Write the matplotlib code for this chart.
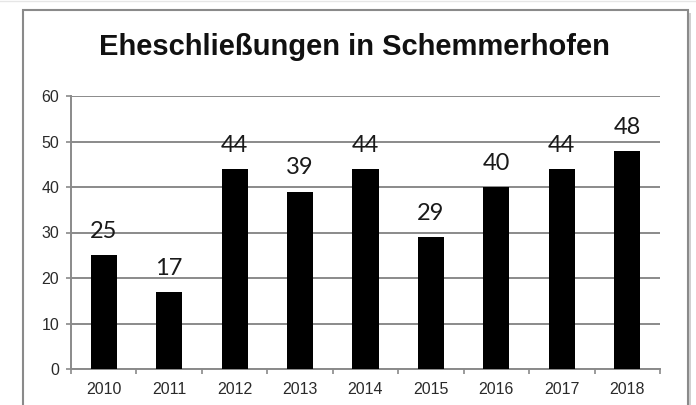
import matplotlib
matplotlib.use("Agg")
import matplotlib.pyplot as plt
from matplotlib.patches import Rectangle
import numpy as np

years = ["2010", "2011", "2012", "2013", "2014", "2015", "2016", "2017", "2018"]
values = [25, 17, 44, 39, 44, 29, 40, 44, 48]
yticks = [0, 10, 20, 30, 40, 50, 60]
title = "Eheschließungen in Schemmerhofen"

W, H = 696, 405
fig = plt.figure(figsize=(W / 100, H / 100), dpi=100)
fig.patch.set_facecolor("white")

# frame with shadow
fx0, fy0, fx1 = 23, 10, 688
shadow = Rectangle(((fx0 + 3) / W, -0.1), (fx1 - fx0) / W, 1 - (fy0 + 3) / H + 0.1,
                   transform=fig.transFigure, facecolor="#d0d0d0", edgecolor="none", zorder=-3)
fig.patches.append(shadow)
frame = Rectangle((fx0 / W, -0.1), (fx1 - fx0) / W, 1 - fy0 / H + 0.1,
                  transform=fig.transFigure, facecolor="white", edgecolor="#8a8a8a",
                  linewidth=1.5, zorder=-2)
fig.patches.append(frame)
fig.add_artist(plt.Line2D([0, 1], [1 - 1 / H, 1 - 1 / H], transform=fig.transFigure,
                          color="#e6e6e6", linewidth=1, zorder=-1))

ax = fig.add_axes([71 / W, 1 - 369 / H, (660 - 71) / W, (369 - 96) / H])
ax.set_zorder(1)
ax.set_facecolor("none")
x = np.arange(len(years))
ax.bar(x, values, width=0.4, color="black", zorder=3)
ax.set_xlim(-0.5, len(years) - 0.5)
ax.set_ylim(0, 60)
ax.set_yticks(yticks)
ax.set_yticklabels([str(t) for t in yticks])
ax.set_xticks(x)
ax.set_xticklabels(years)
ax.set_xticks(np.arange(-0.5, len(years)), minor=True)
ax.tick_params(axis="x", which="major", length=0, pad=9, labelsize=11.5, labelcolor="#2a2a2a")
ax.tick_params(axis="x", which="minor", length=3.5, width=1.2, color="#8a8a8a", direction="out")
ax.tick_params(axis="y", length=3.5, width=1.2, color="#8a8a8a", direction="out", pad=5,
               labelsize=11.5, labelcolor="#2a2a2a")
for t in ax.get_xticklabels() + ax.get_yticklabels():
    t.set_family(["Liberation Sans", "DejaVu Sans"])
ax.grid(axis="y", color="#8a8a8a", linewidth=1.4, zorder=0)
ax.set_axisbelow(True)
for s in ["top", "right"]:
    ax.spines[s].set_visible(False)
for s in ["left", "bottom"]:
    ax.spines[s].set_color("#8a8a8a")
    ax.spines[s].set_linewidth(1.4)

for xi, v in zip(x, values):
    ax.annotate(str(v), (xi, v), xytext=(0, 12.3), textcoords="offset points",
                ha="center", va="baseline", fontsize=17, family=["Lato", "DejaVu Sans"],
                color="#1a1a1a", zorder=4)

fig.text(0.509, 1 - 55 / H, title, ha="center", va="baseline", fontsize=21,
         fontweight="bold", family=["Liberation Sans", "DejaVu Sans"], color="#111111",
         zorder=2)

fig.savefig("out.png", dpi=100)
